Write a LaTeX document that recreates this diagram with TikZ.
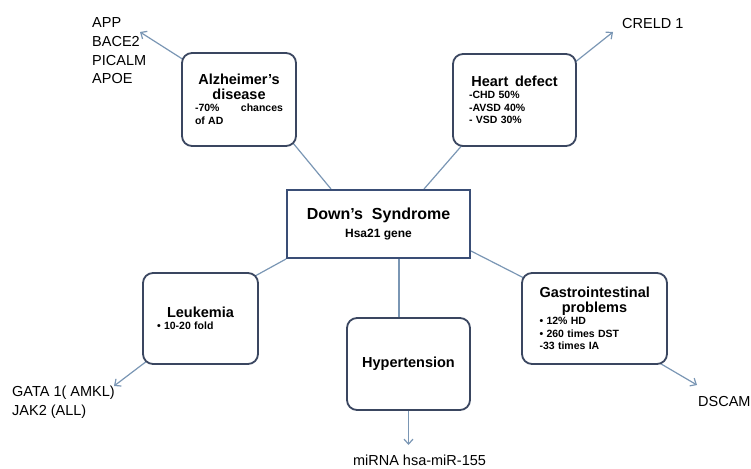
\documentclass[tikz,border=0pt]{standalone}
\usepackage{fontspec}
\setmainfont{Liberation Sans}
\usetikzlibrary{arrows.meta,backgrounds}

\definecolor{boxedge}{RGB}{58,70,96}
\definecolor{downedge}{RGB}{58,78,118}
\definecolor{linkblue}{RGB}{122,150,180}

\newcommand\illtitle{\fontsize{14.5}{14.5}\selectfont\bfseries}
\newcommand\illitem{\fontsize{10.5}{12.5}\selectfont\bfseries}
\newcommand\genefont{\fontsize{14.5}{18.7}\selectfont}

\begin{document}
\begin{tikzpicture}[x=1pt,y=-1pt,
	ill/.style={draw=boxedge,line width=1.8pt,rounded corners=10pt,fill=white,inner sep=0pt},
	link/.style={draw=linkblue,line width=1.2pt},
	toward/.style={link,-{Straight Barb[length=5pt,width=9pt]}},
	gene/.style={inner sep=0pt,align=left,font=\genefont}]

	\useasboundingbox (0,0) rectangle (751,468);

	% centre
	\node[draw=downedge,line width=2pt,fill=white,minimum width=183pt,minimum height=68pt,
		align=center,font=\fontsize{16}{18}\selectfont\bfseries] (down) at (378.5,224)
		{Down's\ \ Syndrome\\{\fontsize{12}{18}\selectfont Hsa21 gene}};

	% disorders
	\node[ill,minimum width=114pt,minimum height=93pt,text width=88pt] (alz) at (239,99.5)
		{{\illtitle\centering Alzheimer's\\disease\par}{\illitem -70\%\hfill chances\\of AD\par}};
	\node[ill,minimum width=123pt,minimum height=92pt,text width=91pt] (heart) at (514.5,100)
		{{\illtitle\centering Heart\ \ defect\par}{\illitem -CHD 50\%\\-AVSD 40\%\\- VSD 30\%\par}};
	\node[ill,minimum width=115pt,minimum height=91pt,text width=87pt] (leuk) at (200.5,318.5)
		{{\illtitle\centering Leukemia\par}{\illitem • 10-20 fold\par}};
	\node[ill,minimum width=123pt,minimum height=92pt,align=center,font=\illtitle] (hyp) at (408.5,364)
		{Hypertension};
	\node[ill,minimum width=145pt,minimum height=91pt,text width=110pt] (gastro) at (594.5,318.5)
		{{\illtitle\centering Gastrointestinal\\problems\par}{\illitem • 12\% HD\\• 260 times DST\\-33 times IA\par}};

	% genes
	\node[gene,anchor=west] (genes) at (92,51) {APP\\BACE2\\PICALM\\APOE};
	\node[gene,anchor=west] (creld) at (622,24) {CRELD 1};
	\node[gene,anchor=west] (gata) at (12,402.5) {GATA 1( AMKL)\\JAK2 (ALL)};
	\node[gene] (mirna) at (419.5,460) {miRNA hsa-miR-155};
	\node[gene,anchor=west] (dscam) at (698,402) {DSCAM};

	\coordinate (append) at (140,32);
	\coordinate (creldend) at (613,32);
	\coordinate (gataend) at (114,386);
	\coordinate (mirnaend) at (408.5,445);
	\coordinate (dscamend) at (697,385);

	\begin{scope}[on background layer]
		\draw[link] ([shift={(-4pt,4pt)}]alz.south east) -- ([xshift=45pt]down.north west);
		\draw[link] ([shift={(12pt,4pt)}]heart.south west) -- ([xshift=138pt]down.north west);
		\draw[link] ([shift={(-4pt,-4pt)}]leuk.north east) -- (down.south west);
		\draw[link] ([xshift=113pt]down.south west) coordinate (dh) -- (dh |- hyp.north);
		\draw[link] ([yshift=8pt]down.south east) -- ([shift={(5pt,-7pt)}]gastro.north west);

		\draw[toward] ([shift={(3pt,-8pt)}]alz.north west) -- (append);
		\draw[toward] ([shift={(-3pt,-10pt)}]heart.north east) -- (creldend);
		\draw[toward] ([shift={(5pt,4pt)}]leuk.south west) -- (gataend);
		\draw[toward] (hyp.south) -- (mirnaend);
		\draw[toward] ([shift={(-12pt,4pt)}]gastro.south east) -- (dscamend);
	\end{scope}
\end{tikzpicture}
\end{document}
